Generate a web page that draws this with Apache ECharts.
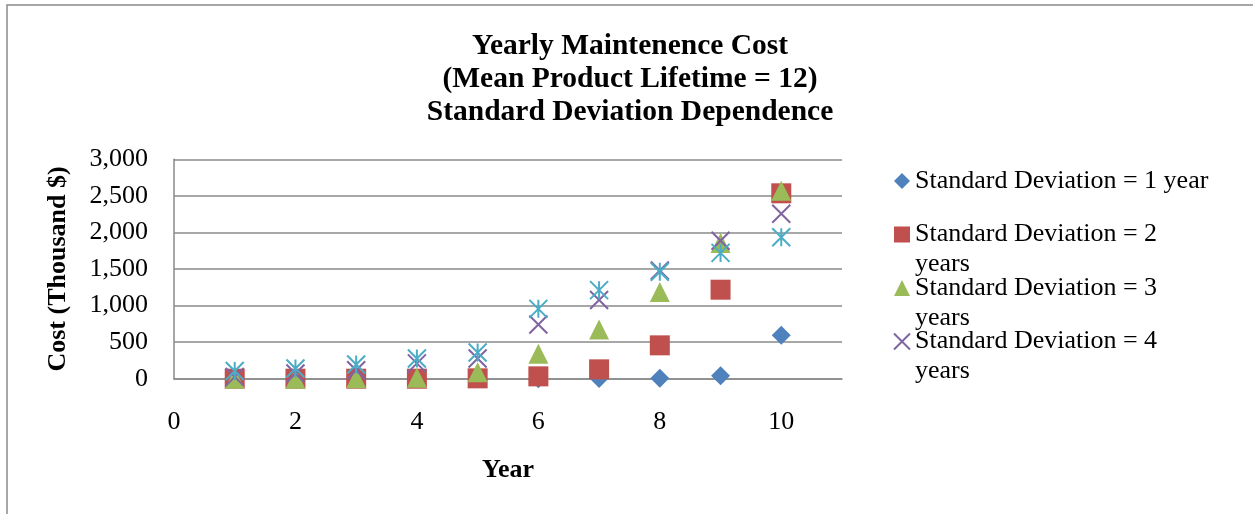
<!DOCTYPE html>
<html>
<head>
<meta charset="utf-8">
<title>Yearly Maintenence Cost</title>
<script src="https://cdn.jsdelivr.net/npm/echarts@6/dist/echarts.min.js"></script>
<style>
  html, body { margin: 0; padding: 0; background: #ffffff; }
  #chart { width: 1253px; height: 514px; }
</style>
</head>
<body>
<div id="chart"></div>
<script>
// Year of service
const years = [1, 2, 3, 4, 5, 6, 7, 8, 9, 10];

// Yearly maintenance cost (thousand $) for each standard deviation of product lifetime
const costSd1 = [0, 0, 0, 0, 0, 0, 2, 5, 41, 593];
const costSd2 = [0, 0, 0, 0, 5, 32, 128, 456, 1217, 2535];
const costSd3 = [0, 0, 5, 12, 88, 342, 673, 1187, 1856, 2571];
const costSd4 = [25, 70, 116, 210, 277, 740, 1075, 1480, 1886, 2256];
const costSd5 = [105, 140, 194, 277, 358, 955, 1211, 1462, 1720, 1935];

const seriesNames = [
  'Standard Deviation = 1 year',
  'Standard Deviation = 2 years',
  'Standard Deviation = 3 years',
  'Standard Deviation = 4 years',
  'Standard Deviation = 5 years'
];
// Only the first four entries fit in the legend box
const legendNames = seriesNames.slice(0, 4);
const legendLines = {
  'Standard Deviation = 1 year': ['Standard Deviation = 1 year'],
  'Standard Deviation = 2 years': ['Standard Deviation = 2', 'years'],
  'Standard Deviation = 3 years': ['Standard Deviation = 3', 'years'],
  'Standard Deviation = 4 years': ['Standard Deviation = 4', 'years']
};

const yTicks = [0, 500, 1000, 1500, 2000, 2500, 3000];
const xTicks = [0, 2, 4, 6, 8, 10];

const colors = ['#4F81BD', '#C0504D', '#9BBB59', '#8064A2', '#4BACC6'];
const FONT = 'Liberation Serif';

function pairs(values) {
  return years.map((x, i) => [x, values[i]]);
}

const chart = echarts.init(document.getElementById('chart'), null, { renderer: 'canvas' });

const option = {
  animation: false,
  backgroundColor: '#ffffff',
  textStyle: { fontFamily: FONT, color: '#000000' },
  title: {
    text: 'Yearly Maintenence Cost\n(Mean Product Lifetime = 12)\nStandard Deviation Dependence',
    left: 625,
    top: 25,
    textAlign: 'center',
    textStyle: {
      fontFamily: FONT,
      fontSize: 29.5,
      fontWeight: 'bold',
      lineHeight: 33,
      color: '#000000'
    }
  },
  graphic: [{
    // chart frame
    type: 'rect',
    silent: true,
    shape: { x: 7, y: 5, width: 1400, height: 700 },
    style: { fill: 'none', stroke: '#8a8a8a', lineWidth: 1.5 }
  }],
  legend: {
    data: legendNames,
    orient: 'vertical',
    left: 888,
    top: 131,
    itemWidth: 16,
    itemHeight: 16,
    itemGap: -36.5,
    selectedMode: false,
    formatter: function (name) {
      const lines = legendLines[name];
      // pad with blank lines so the marker sits beside the first line
      return lines.length === 1 ? '\n' + lines[0] + '\n' : '\n' + lines.join('\n');
    },
    textStyle: {
      fontFamily: FONT,
      fontSize: 26,
      lineHeight: 30,
      color: '#000000'
    }
  },
  grid: {
    left: 174,
    right: 411,
    top: 159.3,
    bottom: 135.3,
    containLabel: false
  },
  xAxis: {
    type: 'value',
    min: xTicks[0],
    max: 11,
    interval: 2,
    name: 'Year',
    nameLocation: 'middle',
    nameGap: 79,
    nameTextStyle: { fontFamily: FONT, fontSize: 26, fontWeight: 'bold', color: '#000000' },
    axisLine: { show: true, lineStyle: { color: '#8a8a8a', width: 1.5 } },
    axisTick: { show: false },
    splitLine: { show: false },
    axisLabel: {
      showMaxLabel: false,
      margin: 30,
      fontFamily: FONT,
      fontSize: 26,
      color: '#000000',
      formatter: function (v) { return xTicks.indexOf(v) >= 0 ? String(v) : ''; }
    }
  },
  yAxis: {
    type: 'value',
    min: yTicks[0],
    max: yTicks[yTicks.length - 1],
    interval: 500,
    name: 'Cost (Thousand $)',
    nameLocation: 'middle',
    nameGap: 103,
    nameTextStyle: { fontFamily: FONT, fontSize: 26, fontWeight: 'bold', color: '#000000' },
    axisLine: { show: true, lineStyle: { color: '#8a8a8a', width: 1.5 } },
    axisTick: { show: false },
    splitLine: { show: true, lineStyle: { color: '#8a8a8a', width: 1.5 } },
    axisLabel: {
      margin: 26,
      padding: [3, 0, 0, 0],
      fontFamily: FONT,
      fontSize: 26,
      color: '#000000',
      formatter: function (v) { return v.toLocaleString('en-US'); }
    }
  },
  series: [
    {
      name: seriesNames[0],
      type: 'scatter',
      data: pairs(costSd1),
      symbol: 'diamond',
      symbolSize: 19,
      itemStyle: { color: colors[0], opacity: 1 }
    },
    {
      name: seriesNames[1],
      type: 'scatter',
      data: pairs(costSd2),
      symbol: 'rect',
      symbolSize: 20,
      itemStyle: { color: colors[1], opacity: 1 }
    },
    {
      name: seriesNames[2],
      type: 'scatter',
      data: pairs(costSd3),
      symbol: 'triangle',
      symbolSize: 20,
      itemStyle: { color: colors[2], opacity: 1 }
    },
    {
      name: seriesNames[3],
      type: 'scatter',
      data: pairs(costSd4),
      symbol: 'path://M0,0L10,10M10,0L0,10',
      symbolSize: 18,
      color: colors[3],
      itemStyle: { color: 'transparent', borderColor: colors[3], borderWidth: 2, opacity: 1 }
    },
    {
      name: seriesNames[4],
      type: 'scatter',
      data: pairs(costSd5),
      symbol: 'path://M5,0L5,10M0,0L10,10M10,0L0,10',
      symbolSize: 18,
      color: colors[4],
      itemStyle: { color: 'transparent', borderColor: colors[4], borderWidth: 2, opacity: 1 }
    }
  ]
};

chart.setOption(option);
</script>
</body>
</html>
